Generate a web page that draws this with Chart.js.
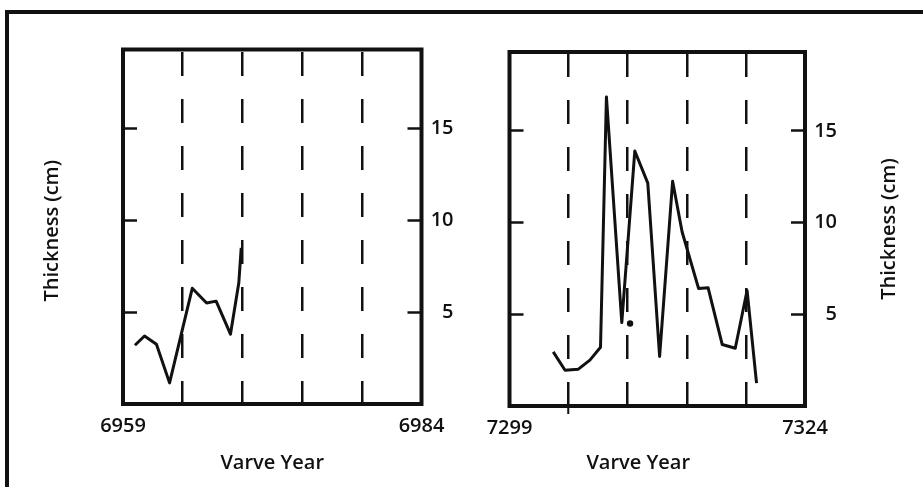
<!DOCTYPE html>
<html>
<head>
<meta charset="utf-8">
<title>Varve thickness</title>
<script src="https://cdn.jsdelivr.net/npm/chart.js@4.4.1/dist/chart.umd.min.js"></script>
<style>
  html, body { margin: 0; padding: 0; background: #fff; overflow: hidden; }
  body { width: 923px; height: 487px; position: relative; }
  #frame { position: absolute; left: 5px; top: 10px; width: 1000px; height: 600px;
           border-left: 4px solid #111; border-top: 4px solid #111; }
  canvas { position: absolute; top: 0; }
  #leftPanel { left: 0; }
  #rightPanel { left: 462px; }
</style>
</head>
<body>
<div id="frame"></div>
<canvas id="leftPanel" width="462" height="487"></canvas>
<canvas id="rightPanel" width="461" height="487"></canvas>
<script>
// left panel: varve years 6959-6984
const leftYears = [6960.0, 6960.8, 6961.8, 6962.9, 6964.8, 6966.0, 6966.8, 6968.0, 6968.7, 6968.9];
const leftThickness = [3.2, 3.7, 3.25, 1.15, 6.3, 5.5, 5.6, 3.8, 6.6, 8.5];

// right panel: varve years 7299-7324
const rightYears = [7302.7, 7303.7, 7304.8, 7305.8, 7306.7, 7307.2, 7308.5, 7309.6, 7310.7, 7311.7,
                    7312.8, 7313.6, 7315.0, 7315.8, 7317.0, 7318.1, 7319.1, 7319.9];
const rightThickness = [2.95, 1.95, 2.0, 2.5, 3.2, 16.85, 4.55, 13.9, 12.15, 2.7,
                        12.25, 9.5, 6.4, 6.45, 3.35, 3.15, 6.3, 1.25];
const rightDotYear = [7309.2];
const rightDotThickness = [4.5];

// axes
const leftYearTicks = [6959, 6964, 6969, 6974, 6979, 6984];
const rightYearTicks = [7299, 7304, 7309, 7314, 7319, 7324];
const thicknessTicks = [5, 10, 15];
const thicknessMax = 19.3;
const xTitle = 'Varve Year';
const yTitle = 'Thickness (cm)';

const INK = '#111';
const FAMILY = "'Open Sans', 'DejaVu Sans', sans-serif";
const CLEAR = 'rgba(0,0,0,0)';

// box round the plot area
const framePlugin = {
  id: 'frame',
  afterDatasetsDraw(chart) {
    const { ctx, chartArea: a } = chart;
    ctx.save();
    ctx.strokeStyle = INK;
    ctx.lineWidth = 4;
    ctx.strokeRect(a.left, a.top, a.right - a.left, a.bottom - a.top);
    ctx.restore();
  }
};

// axis titles (the right one reads bottom-to-top too)
const titlePlugin = {
  id: 'axisTitles',
  afterDraw(chart, args, o) {
    const { ctx, chartArea: a } = chart;
    ctx.save();
    ctx.fillStyle = INK;
    ctx.font = '600 20px ' + FAMILY;
    ctx.textAlign = 'center';
    ctx.textBaseline = 'middle';
    ctx.fillText(xTitle, (a.left + a.right) / 2 + o.xShift, a.bottom + o.xGap);
    const yx = o.side === 'left' ? a.left - o.yGap : a.right + o.yGap;
    ctx.translate(yx, (a.top + a.bottom) / 2 + o.yShift);
    ctx.rotate(-Math.PI / 2);
    ctx.fillText(yTitle, 0, 0);
    ctx.restore();
  }
};

function yScale(position, width, showLabels) {
  return {
    position: position,
    min: 0,
    max: thicknessMax,
    afterBuildTicks: s => { s.ticks = thicknessTicks.map(v => ({ value: v })); },
    afterFit: s => { s.width = width; },
    grid: { drawOnChartArea: false, tickLength: -14, tickWidth: 2.5, tickColor: INK },
    border: { display: false },
    ticks: {
      display: showLabels,
      color: INK,
      font: { family: FAMILY, size: 20, weight: 600 },
      padding: 0,
      crossAlign: 'far'   // right-aligned against the outer edge of the axis box
    }
  };
}

function makePanel(id, years, values, dots, yearTicks, o) {
  const first = yearTicks[0];
  const last = yearTicks[yearTicks.length - 1];
  const datasets = [{
    data: years.map((x, i) => ({ x: x, y: values[i] })),
    showLine: true,
    borderColor: INK,
    borderWidth: 3,
    borderJoinStyle: 'round',
    pointRadius: 0,
    tension: 0
  }];
  if (dots) {
    datasets.push({
      data: dots[0].map((x, i) => ({ x: x, y: dots[1][i] })),
      showLine: false,
      pointRadius: 3.2,
      pointBorderWidth: 0,
      pointBackgroundColor: INK
    });
  }

  return new Chart(document.getElementById(id), {
    type: 'scatter',
    data: { datasets: datasets },
    options: {
      responsive: false,
      animation: false,
      devicePixelRatio: 1,
      events: [],
      layout: { padding: { top: o.top, left: 0, right: o.padRight, bottom: 0 } },
      plugins: {
        legend: { display: false },
        tooltip: { enabled: false },
        axisTitles: o.titles
      },
      scales: {
        x: {
          type: 'linear',
          min: first,
          max: last,
          afterBuildTicks: s => { s.ticks = yearTicks.map(v => ({ value: v })); },
          afterFit: s => { s.height = o.xHeight; },
          grid: {
            color: c => (c.tick && c.tick.value !== first && c.tick.value !== last) ? INK : CLEAR,
            lineWidth: 2.5,
            tickLength: 8,
            tickWidth: 2,
            tickColor: c => (c.tick && c.tick.value === o.markedTick) ? INK : CLEAR
          },
          border: { display: false, dash: [24, 23], dashOffset: o.dashOffset },
          ticks: {
            color: INK,
            font: { family: FAMILY, size: 20, weight: 600 },
            padding: 2,
            maxRotation: 0,
            autoSkip: false,
            callback: v => (v === first || v === last) ? String(v) : ''
          }
        },
        y: yScale('left', o.leftWidth, false),
        y2: yScale('right', 32, true)
      }
    },
    plugins: [framePlugin, titlePlugin]
  });
}

makePanel('leftPanel', leftYears, leftThickness, null, leftYearTicks, {
  top: 49.5, leftWidth: 123, padRight: 8.5, xHeight: 83,
  dashOffset: 44.5, markedTick: null,
  titles: { side: 'left', yGap: 71, yShift: 4, xShift: 0, xGap: 59 }
});

makePanel('rightPanel', rightYears, rightThickness, [rightDotYear, rightDotThickness], rightYearTicks, {
  top: 52, leftWidth: 47.5, padRight: 86, xHeight: 81,
  dashOffset: 46, markedTick: 7304,
  titles: { side: 'right', yGap: 84, yShift: 0, xShift: -19, xGap: 57 }
});
</script>
</body>
</html>
